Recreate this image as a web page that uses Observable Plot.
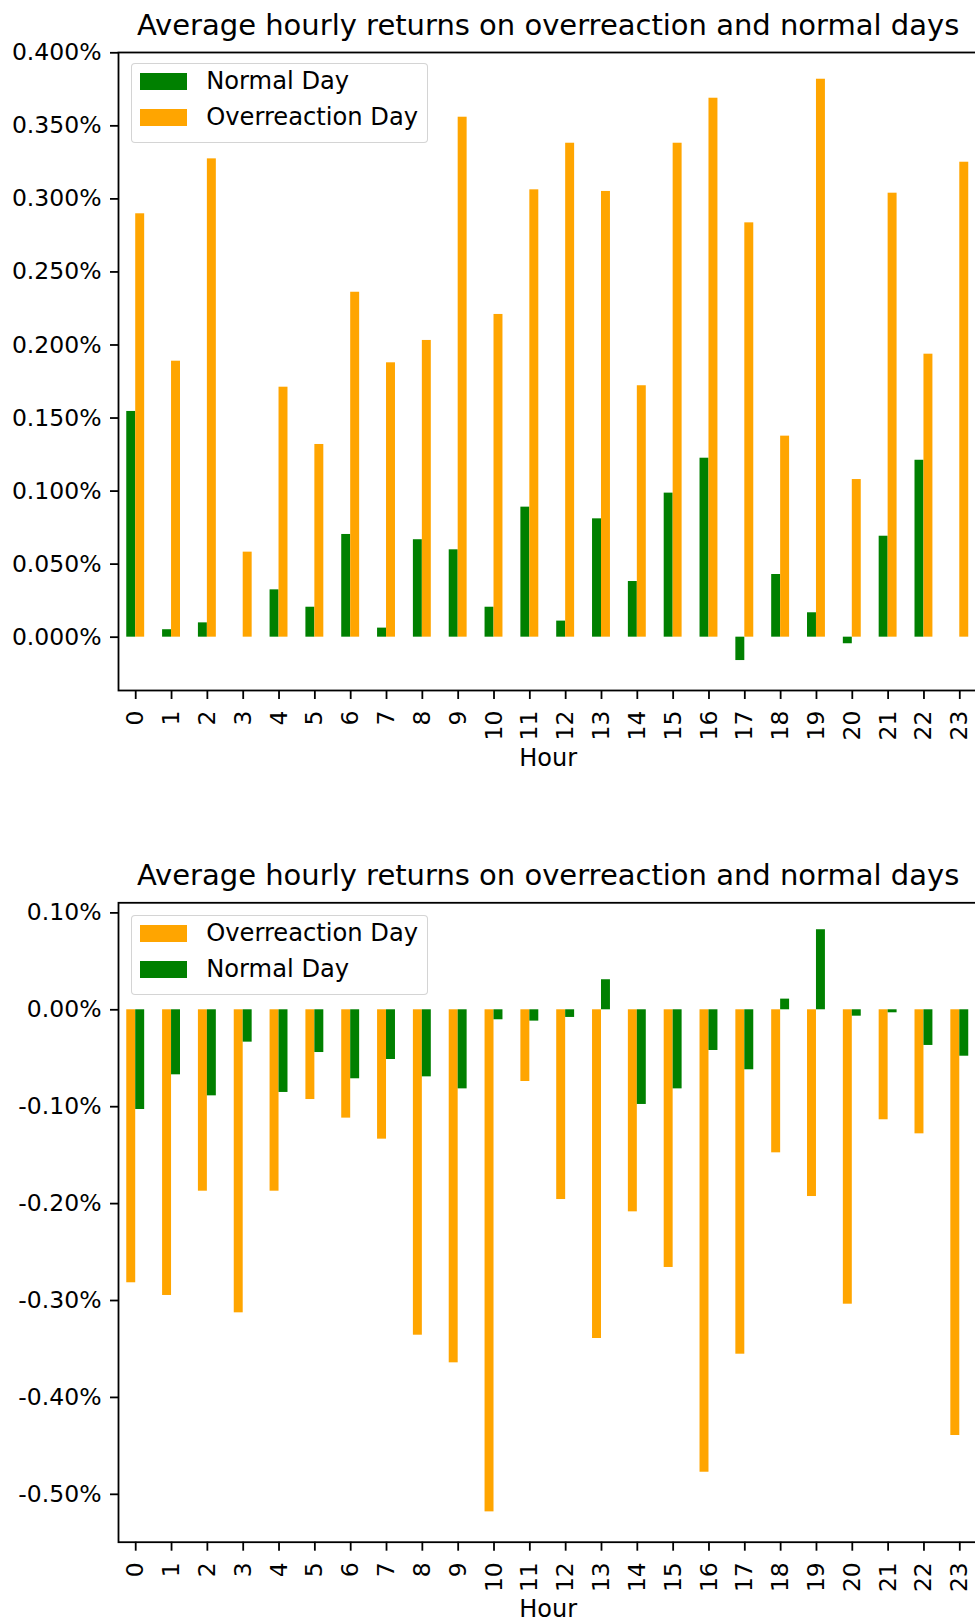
<!DOCTYPE html>
<html>
<head>
<meta charset="utf-8">
<script src="https://cdn.jsdelivr.net/npm/d3@7"></script>
<script src="https://cdn.jsdelivr.net/npm/@observablehq/plot@0.6"></script>
<style>
  html, body { margin: 0; padding: 0; background: #fff; overflow: hidden; }
  body { font-family: "DejaVu Sans", sans-serif; width: 975px; }
  .chart { position: relative; width: 975px; }
  .chart svg { display: block; }
  .legend { position: absolute; box-sizing: border-box; width: 297px; height: 80px;
            border: 1.5px solid rgba(204,204,204,0.85); border-radius: 4px;
            background: rgba(255,255,255,0.8); }
  .legend .sw { position: absolute; left: 8px; width: 47px; height: 17px; }
  .legend .lb { position: absolute; left: 74.5px; font-size: 24.2px; line-height: 17px;
                height: 17px; color: #000; white-space: nowrap; }
</style>
</head>
<body>
<div id="root"></div>
<script>
// ---------- data ----------
const title = "Average hourly returns on overreaction and normal days";
const xLabel = "Hour";
const hours = [0,1,2,3,4,5,6,7,8,9,10,11,12,13,14,15,16,17,18,19,20,21,22,23];

// chart 1 (values in %)
const top_series = ["Normal Day", "Overreaction Day"];
const normalTop = [0.1545, 0.0051, 0.0098, 0.0000, 0.0324, 0.0205, 0.0703, 0.0062, 0.0667, 0.0598, 0.0205, 0.0890,
                   0.0110, 0.0810, 0.0381, 0.0986, 0.1225, -0.0160, 0.0429, 0.0167, -0.0045, 0.0691, 0.1211, 0.0000];
const overTop   = [0.2898, 0.1889, 0.3274, 0.0582, 0.1711, 0.1319, 0.2361, 0.1878, 0.2031, 0.3559, 0.2209, 0.3062,
                   0.3381, 0.3051, 0.1721, 0.3381, 0.3689, 0.2836, 0.1376, 0.3819, 0.1079, 0.3039, 0.1937, 0.3251];
const yTicksTop = [0, 0.05, 0.10, 0.15, 0.20, 0.25, 0.30, 0.35, 0.40];

// chart 2 (values in %)
const bottom_series = ["Overreaction Day", "Normal Day"];
const overBottom   = [-0.2817, -0.2948, -0.1872, -0.3127, -0.1872, -0.0926, -0.1118, -0.1335, -0.3358, -0.3643, -0.5181, -0.0740,
                      -0.1958, -0.3392, -0.2085, -0.2659, -0.4772, -0.3554, -0.1476, -0.1927, -0.3038, -0.1135, -0.1280, -0.4393];
const normalBottom = [-0.1029, -0.0671, -0.0888, -0.0334, -0.0853, -0.0441, -0.0712, -0.0513, -0.0692, -0.0816, -0.0103, -0.0117,
                      -0.0079, 0.0310, -0.0977, -0.0816, -0.0420, -0.0619, 0.0110, 0.0826, -0.0066, -0.0031, -0.0368, -0.0479];
const yTicksBottom = [-0.5, -0.4, -0.3, -0.2, -0.1, 0, 0.1];

const seriesColors = {"Normal Day": "#008000", "Overreaction Day": "#ffa500"};

// ---------- helpers ----------
const BAR = 0.25; // bar width in category units (pandas default for 2 series)

function rowsFor(seriesNames, valueArrays) {
  const rows = [];
  seriesNames.forEach((s, i) => {
    valueArrays[i].forEach((v, k) => {
      rows.push({hour: hours[k], series: s, slot: i, value: v});
    });
  });
  return rows;
}

function makeChart({seriesNames, valueArrays, yDomain, yTicks, decimals, height, marginTop, marginBottom, legendTop}) {
  const rows = rowsFor(seriesNames, valueArrays);
  const n = seriesNames.length;
  const plot = Plot.plot({
    width: 975,
    height,
    marginLeft: 118,
    marginRight: -2.2,
    marginTop,
    marginBottom,
    style: {fontFamily: "DejaVu Sans", fontSize: "23.5px", color: "#000", background: "#fff", overflow: "visible"},
    x: {domain: [-0.5, 23.5], range: [117.3, 977.2]},
    y: {domain: yDomain},
    color: {domain: Object.keys(seriesColors), range: Object.values(seriesColors)},
    marks: [
      Plot.rect(rows, {
        x1: d => d.hour + (d.slot - n / 2) * BAR,
        x2: d => d.hour + (d.slot - n / 2 + 1) * BAR,
        y1: 0,
        y2: "value",
        fill: "series"
      }),
      Plot.frame({stroke: "#000", strokeWidth: 1.8}),
      Plot.axisY({ticks: yTicks, tickFormat: d => d.toFixed(decimals) + "%", tickSize: 8, tickPadding: 9,
                  strokeWidth: 1.8, label: null, fontSize: 23.5}),
      Plot.axisX({ticks: hours, tickFormat: d => String(d), tickRotate: -90, tickSize: 9, tickPadding: 11,
                  strokeWidth: 1.8, label: null, fontSize: 23.5}),
      Plot.text([title], {frameAnchor: "top", dy: -17.4, lineAnchor: "bottom", fontSize: 29, fill: "#000"}),
      Plot.text([xLabel], {frameAnchor: "bottom", dy: 75, lineAnchor: "bottom", fontSize: 24, fill: "#000"})
    ]
  });

  const wrap = document.createElement("div");
  wrap.className = "chart";
  wrap.appendChild(plot);

  const lg = document.createElement("div");
  lg.className = "legend";
  lg.style.left = "130.7px";
  lg.style.top = legendTop + "px";
  seriesNames.forEach((s, i) => {
    const sw = document.createElement("div");
    sw.className = "sw";
    sw.style.top = (8.5 + i * 36) + "px";
    sw.style.background = seriesColors[s];
    const lb = document.createElement("div");
    lb.className = "lb";
    lb.style.top = (8.5 + i * 36) + "px";
    lb.textContent = s;
    lg.appendChild(sw);
    lg.appendChild(lb);
  });
  wrap.appendChild(lg);
  return wrap;
}

const root = document.getElementById("root");
root.appendChild(makeChart({
  seriesNames: top_series,
  valueArrays: [normalTop, overTop],
  yDomain: [-0.0365, 0.4002],
  yTicks: yTicksTop,
  decimals: 3,
  height: 820,
  marginTop: 52,
  marginBottom: 130,
  legendTop: 63.3
}));
root.appendChild(makeChart({
  seriesNames: bottom_series,
  valueArrays: [overBottom, normalBottom],
  yDomain: [-0.5494, 0.1104],
  yTicks: yTicksBottom,
  decimals: 2,
  height: 801,
  marginTop: 82.3,
  marginBottom: 79.3,
  legendTop: 95
}));
</script>
</body>
</html>
